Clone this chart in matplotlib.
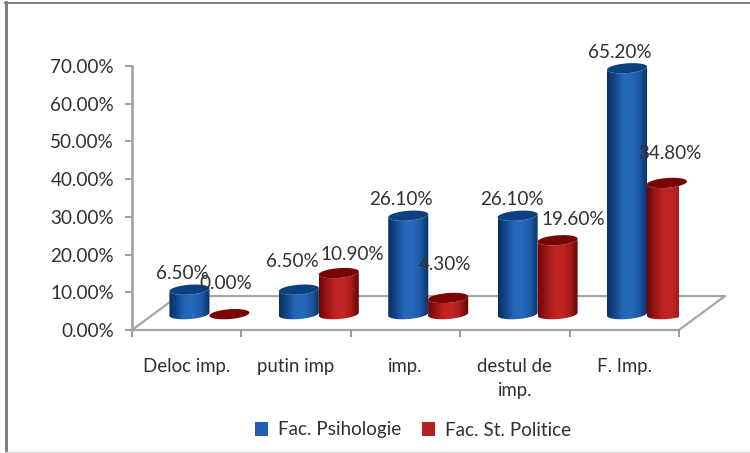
import numpy as np
import matplotlib
matplotlib.use('Agg')
import matplotlib.pyplot as plt
from matplotlib.colors import LinearSegmentedColormap
from matplotlib.patches import Polygon, Rectangle

categories = ['Deloc imp.', 'putin imp', 'imp.', 'destul de\nimp.', 'F. Imp.']
psihologie = [6.5, 6.5, 26.1, 26.1, 65.2]
politice = [0.0, 10.9, 4.3, 19.6, 34.8]
y_ticks = [0, 10, 20, 30, 40, 50, 60, 70]

# label nudges in pixels, the labels in the original are not placed regularly
psi_nudge = [(-7, 16), (-6, 28), (-7, 16), (-6, 16), (-7, 16)]
pol_nudge = [(-4, 31), (13, 19), (-3, 33), (16, 21), (3, 29)]

plt.rcParams['font.family'] = ['Lato', 'DejaVu Sans']
text_col = '#303030'
line_col = '#a6a6a6'

fig = plt.figure(figsize=(7.5, 4.53), dpi=100)
W, H = 750.0, 453.0

# frame of the picture
fig.add_artist(plt.Line2D([5.5 / W, 5.5 / W], [0, 1 - 2 / H], color='#777777', lw=2))
fig.add_artist(plt.Line2D([5 / W, 1], [1 - 2.5 / H, 1 - 2.5 / H], color='#777777', lw=1.3))
fig.add_artist(plt.Line2D([5 / W, 1], [1.5 / H, 1.5 / H], color='#d8d8d8', lw=1))

ax = fig.add_axes([132 / W, 1 - 330 / H, (679 - 132) / W, (330 - 66) / H])
ax.patch.set_alpha(0)
for s in ['top', 'right', 'bottom']:
    ax.spines[s].set_visible(False)
ax.spines['left'].set_color(line_col)
ax.spines['left'].set_linewidth(2)

ax.set_yticks(y_ticks)
ax.set_yticklabels(['%.2f%%' % t for t in y_ticks], fontsize=13.6, color=text_col)
ax.tick_params(axis='y', length=5, width=1.2, color='#8c8c8c', pad=8)
ax.set_xticks(range(6))
ax.set_xticklabels([])
ax.set_xticks(np.arange(5) + 0.5, minor=True)
ax.set_xticklabels(categories, minor=True, fontsize=13.4, color=text_col, linespacing=1.5)
ax.tick_params(axis='x', which='major', length=5, width=1.2, color='#8c8c8c')
ax.tick_params(axis='x', which='minor', length=0, pad=20)

# floor of the 3d box
dx, dy = 0.42, 9.0
ax.plot([0, dx, 5 + dx, 5, 0], [0, dy, dy, 0, 0], color=line_col, lw=1.6, clip_on=False, zorder=1)

blue_map = LinearSegmentedColormap.from_list('b', ['#0b2f60', '#15498f', '#2468b8', '#2468b8', '#1d5aa6', '#0a2f60'])
red_map = LinearSegmentedColormap.from_list('r', ['#6d0606', '#9c1616', '#c02524', '#c02524', '#a41a1a', '#5e0202'])
grad = np.linspace(0, 1, 64).reshape(1, -1)


def cylinder(xc, val, cmap, top_col, z):
    half = 0.183
    base = 4.2
    t = np.linspace(0, 2 * np.pi, 81)
    ex = xc + half * np.cos(t)
    ey = 1.3 * np.sin(t) + 0.4 * np.cos(t)
    if val > 0:
        # side of the cylinder, gradient clipped to its outline
        side_x = np.r_[ex[40:], ex[40:][::-1]]
        side_y = np.r_[base + ey[40:], base + val + ey[40:][::-1]]
        im = ax.imshow(grad, cmap=cmap, extent=(xc - half, xc + half, 0, 70), aspect='auto', zorder=z)
        im.set_clip_path(Polygon(np.c_[side_x, side_y], transform=ax.transData))
    ax.fill(ex, base + val + ey, color=top_col, lw=0, zorder=z + 0.1, clip_on=False)


for i in range(5):
    xb = i + 0.525
    xr = i + 0.89
    cylinder(xb, psihologie[i], blue_map, '#0c417f', 3 + i)
    cylinder(xr, politice[i], red_map, '#780404', 3.3 + i)
    ax.annotate('%.2f%%' % psihologie[i], (xb, psihologie[i] + 4.2), xytext=psi_nudge[i],
                textcoords='offset pixels', ha='center', va='center', fontsize=13.6, color=text_col, zorder=20)
    ax.annotate('%.2f%%' % politice[i], (xr, politice[i] + 4.2), xytext=pol_nudge[i],
                textcoords='offset pixels', ha='center', va='center', fontsize=13.6, color=text_col, zorder=20)

# imshow resets the limits
ax.set_xlim(0, 5)
ax.set_ylim(0, 70)

# legend
h1 = Rectangle((0, 0), 1, 1, fc='#1f5fae')
h2 = Rectangle((0, 0), 1, 1, fc='#b3201f')
fig.legend([h1, h2], ['Fac. Psihologie', 'Fac. St. Politice'], ncol=2, frameon=False,
           loc='center', bbox_to_anchor=(413 / W, 1 - 430 / H), fontsize=13.6, labelcolor=text_col,
           handlelength=0.7, handleheight=0.7, handletextpad=0.5, columnspacing=1.1)

fig.savefig('out.png', dpi=100)
